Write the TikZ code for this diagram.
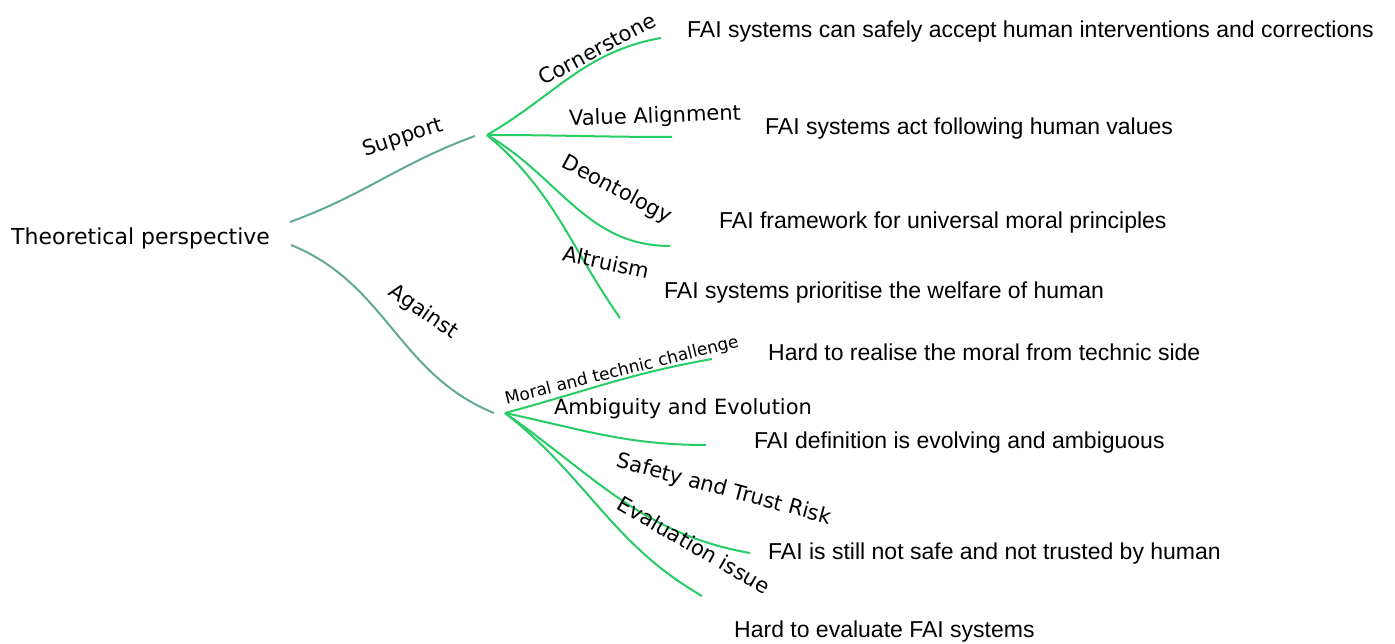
\documentclass[tikz,border=0pt]{standalone}
\usepackage{fontspec}
\usepackage{xcolor}
\usepackage{tikz}
\setmainfont{Liberation Sans}
\newfontfamily\handfont{DejaVu Sans}
\definecolor{trunkteal}{RGB}{98,168,152}
\definecolor{twiggreen}{RGB}{38,204,100}

\begin{document}
\begin{tikzpicture}[x=1pt,y=1pt,
        hand/.style={font=\handfont\fontsize{21}{25}\selectfont, inner sep=0pt},
        desc/.style={font=\fontsize{23}{27}\selectfont, anchor=base west, inner sep=0pt},
        trunk/.style={draw=trunkteal, line width=2pt},
        twig/.style={draw=twiggreen, line width=2pt}]
        \useasboundingbox (0,0) rectangle (1395,644);

        \node[hand, font=\handfont\fontsize{22}{26}\selectfont, anchor=base west] (root) at (11,399) {Theoretical perspective};

        % main trunks
        \coordinate (supStart) at (290,422);
        \coordinate (supEnd) at (475,508);
        \coordinate (agStart) at (291,399);
        \coordinate (agEnd) at (494,231);
        \path [trunk] (supStart) edge [out=20, in=200] (supEnd);
        \path [trunk] (agStart) edge [out=-22, in=158] (agEnd);
        \node[hand, rotate=18] (support) at (403,506) {Support};
        \node[hand, rotate=-35] (against) at (423,332) {Against};

        % support branches
        \coordinate (supHub) at (487,509);
        \coordinate (cornerEnd) at (661,606);
        \coordinate (valueEnd) at (672,507);
        \coordinate (deonEnd) at (670,398);
        \coordinate (altruEnd) at (620,326);
        \path [twig] (supHub) edge [out=30, in=190] (cornerEnd);
        \path [twig] (supHub) edge [out=0, in=180] (valueEnd);
        \path [twig] (supHub) edge [out=-30, in=180] (deonEnd);
        \path [twig] (supHub) edge [out=-40, in=125] (altruEnd);
        \node[hand, rotate=28] (corner) at (597,595) {Cornerstone};
        \node[hand, rotate=2] (value) at (655,527) {Value Alignment};
        \node[hand, rotate=-28] (deon) at (617,454) {Deontology};
        \node[hand, rotate=-12] (altru) at (606,382) {Altruism};

        % against branches
        \coordinate (agHub) at (505,231);
        \coordinate (moralEnd) at (712,285);
        \coordinate (ambigEnd) at (706,199);
        \coordinate (safeEnd) at (750,91);
        \coordinate (evalEnd) at (702,48);
        \path [twig] (agHub) edge [out=15, in=190] (moralEnd);
        \path [twig] (agHub) edge [out=-12, in=180] (ambigEnd);
        \path [twig] (agHub) edge [out=-35, in=170] (safeEnd);
        \path [twig] (agHub) edge [out=-38, in=150] (evalEnd);
        \node[hand, font=\handfont\fontsize{17}{20}\selectfont, rotate=14] (moral) at (622,273) {Moral and technic challenge};
        \node[hand, rotate=0] (ambig) at (683,235) {Ambiguity and Evolution};
        \node[hand, rotate=-15] (safe) at (724,154) {Safety and Trust Risk};
        \node[hand, rotate=-30] (eval) at (694,99) {Evaluation issue};

        % descriptions
        \node[desc] (cornerTxt) at (687,606) {FAI systems can safely accept human interventions and corrections};
        \node[desc] (valueTxt) at (765,509) {FAI systems act following human values};
        \node[desc] (deonTxt) at (719,415) {FAI framework for universal moral principles};
        \node[desc] (altruTxt) at (664,345) {FAI systems prioritise the welfare of human};
        \node[desc] (moralTxt) at (768,283) {Hard to realise the moral from technic side};
        \node[desc] (ambigTxt) at (754,195) {FAI definition is evolving and ambiguous};
        \node[desc] (safeTxt) at (768,84) {FAI is still not safe and not trusted by human};
        \node[desc] (evalTxt) at (734,6) {Hard to evaluate FAI systems};
    \end{tikzpicture}
\end{document}
